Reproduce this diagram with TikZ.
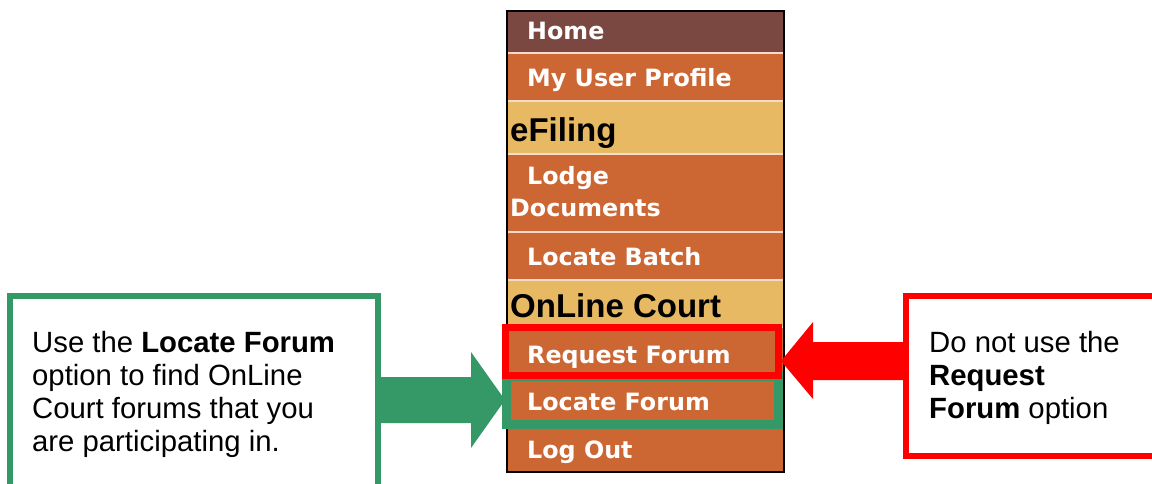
\documentclass[tikz,border=0pt]{standalone}
\usepackage{fontspec}
\setmainfont{Liberation Sans}
\newfontfamily\menufont{DejaVu Sans}
\definecolor{homec}{HTML}{7A4840}
\definecolor{orangec}{HTML}{CC6633}
\definecolor{yellowc}{HTML}{E8B963}
\definecolor{grn}{HTML}{349966}
\definecolor{redc}{HTML}{FF0000}
\definecolor{sepc}{HTML}{F3DCCB}
\tikzset{
  rowbox/.style={draw=none, minimum width=277pt, inner sep=0pt, outer sep=0pt},
  itemtxt/.style={anchor=base west, inner sep=0pt, text=white, font=\menufont\bfseries\fontsize{23.8}{28}\selectfont},
  headtxt/.style={anchor=base west, inner sep=0pt, text=black, font=\bfseries\fontsize{33}{38}\selectfont},
  calltxt/.style={anchor=base west, inner sep=0pt, text=black, font=\fontsize{29.3}{33}\selectfont},
  sepline/.style={draw=sepc, line width=2pt},
}
\begin{document}
\begin{tikzpicture}[x=1pt,y=-1pt]
\useasboundingbox (0,0) rectangle (1152,484);
\clip (0,0) rectangle (1152,484);
\fill[white] (0,0) rectangle (1152,484);

% menu rows
\node[rowbox, fill=homec,   minimum height=42.5pt] (home)  at (645.5,32.25) {};
\node[rowbox, fill=orangec, minimum height=47.5pt] (prof)  at (645.5,77.25) {};
\node[rowbox, fill=yellowc, minimum height=53pt]   (efil)  at (645.5,127.5) {};
\node[rowbox, fill=orangec, minimum height=78pt]   (lodge) at (645.5,193) {};
\node[rowbox, fill=orangec, minimum height=47.5pt] (batch) at (645.5,255.75) {};
\node[rowbox, fill=yellowc, minimum height=47.5pt] (court) at (645.5,303.25) {};
\node[rowbox, fill=orangec, minimum height=51pt]   (req)   at (645.5,352.5) {};
\node[rowbox, fill=orangec, minimum height=48.5pt] (loc)   at (645.5,402.25) {};
\node[rowbox, fill=orangec, minimum height=45.5pt] (logout) at (645.5,449.25) {};

\foreach \r in {home,prof,efil,lodge,batch,court,req,loc}
  \draw[sepline] (\r.south west) -- (\r.south east);

\draw[black, line width=1.5pt] (home.north west) rectangle (logout.south east);

% menu texts
\node[itemtxt] (thome) at (527,40) {Home};
\node[itemtxt] (tprof) at (527,87) {My User Profile};
\node[headtxt] (tefil) at (510,142) {eFiling};
\node[itemtxt] (tlodge) at (527,185) {Lodge};
\node[itemtxt] (tdocs) at (510,217) {Documents};
\node[itemtxt] (tbatch) at (527,265) {Locate Batch};
\node[headtxt] (tcourt) at (510,317) {OnLine Court};
\node[itemtxt] (treq) at (527,363) {Request Forum};
\node[itemtxt] (tloc) at (527,410) {Locate Forum};
\node[itemtxt] (tout) at (527,458) {Log Out};

% highlight frames
\draw[grn, line width=9pt] (506.5,376.5) rectangle (778.5,424.5);
\draw[redc, line width=7pt] (505.5,327.5) rectangle (778.5,375.5);
\coordinate (greentip) at (505,400);
\coordinate (redtip) at (781,361);

% callout boxes
\draw[grn, line width=6pt] (10,296) rectangle (378,520);
\coordinate (leftbox) at (378,400);
\draw[redc, line width=6pt] (906,296) rectangle (1170,456);
\coordinate (rightbox) at (906,361);

% callout texts
\node[calltxt] (l1) at (32,352) {Use the \textbf{Locate Forum}};
\node[calltxt] (l2) at (32,385) {option to find OnLine};
\node[calltxt] (l3) at (32,418) {Court forums that you};
\node[calltxt] (l4) at (32,451) {are participating in.};

\node[calltxt] (r1) at (929,352) {Do not use the};
\node[calltxt] (r2) at (929,385) {\textbf{Request}};
\node[calltxt] (r3) at (929,418) {\textbf{Forum} option};

% block arrows (yshift is in page direction: positive = up)
\fill[grn] ([yshift=23pt]leftbox) -- (471,377) -- (471,352) -- (greentip)
  -- (471,448) -- (471,423) -- ([yshift=-23pt]leftbox) -- cycle;
\fill[redc] ([yshift=19pt]rightbox) -- (813,342) -- (813,322) -- (redtip)
  -- (813,399) -- (813,380) -- ([yshift=-19pt]rightbox) -- cycle;
\end{tikzpicture}
\end{document}
